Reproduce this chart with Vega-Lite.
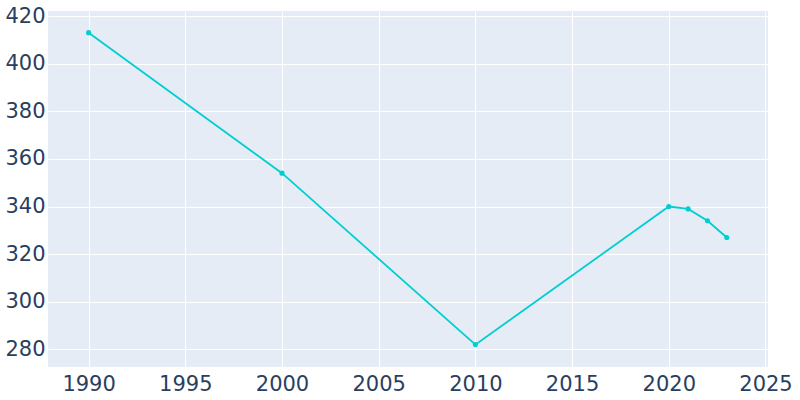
{
  "$schema": "https://vega.github.io/schema/vega-lite/v6.json",
  "autosize": {"type": "none"},
  "width": 720,
  "height": 356,
  "padding": {"left": 48, "top": 11, "right": 32, "bottom": 33},
  "background": "white",
  "config": {
    "view": {"fill": "#E5ECF6", "stroke": null},
    "axis": {
      "gridColor": "white",
      "gridWidth": 1,
      "domain": false,
      "ticks": false,
      "labelColor": "#2a3f5f",
      "labelFont": "DejaVu Sans",
      "labelFontSize": 21,
      "labelFlush": false,
      "labelOverlap": false,
      "title": null
    }
  },
  "data": {
    "values": [
      {"year": 1990, "pop": 413},
      {"year": 2000, "pop": 354},
      {"year": 2010, "pop": 282},
      {"year": 2020, "pop": 340},
      {"year": 2021, "pop": 339},
      {"year": 2022, "pop": 334},
      {"year": 2023, "pop": 327}
    ]
  },
  "mark": {"type": "line", "color": "#00CED1", "strokeWidth": 1.8, "point": {"filled": true, "size": 26, "color": "#00CED1", "opacity": 1}},
  "encoding": {
    "x": {"field": "year", "type": "quantitative", "scale": {"domain": [1987.9, 2025.13], "nice": false, "zero": false},
      "axis": {"values": [1990, 1995, 2000, 2005, 2010, 2015, 2020, 2025], "format": "d", "labelPadding": 6}},
    "y": {"field": "pop", "type": "quantitative", "scale": {"domain": [272.6, 422.1], "nice": false, "zero": false},
      "axis": {"values": [280, 300, 320, 340, 360, 380, 400, 420], "labelPadding": 3}}
  }
}
